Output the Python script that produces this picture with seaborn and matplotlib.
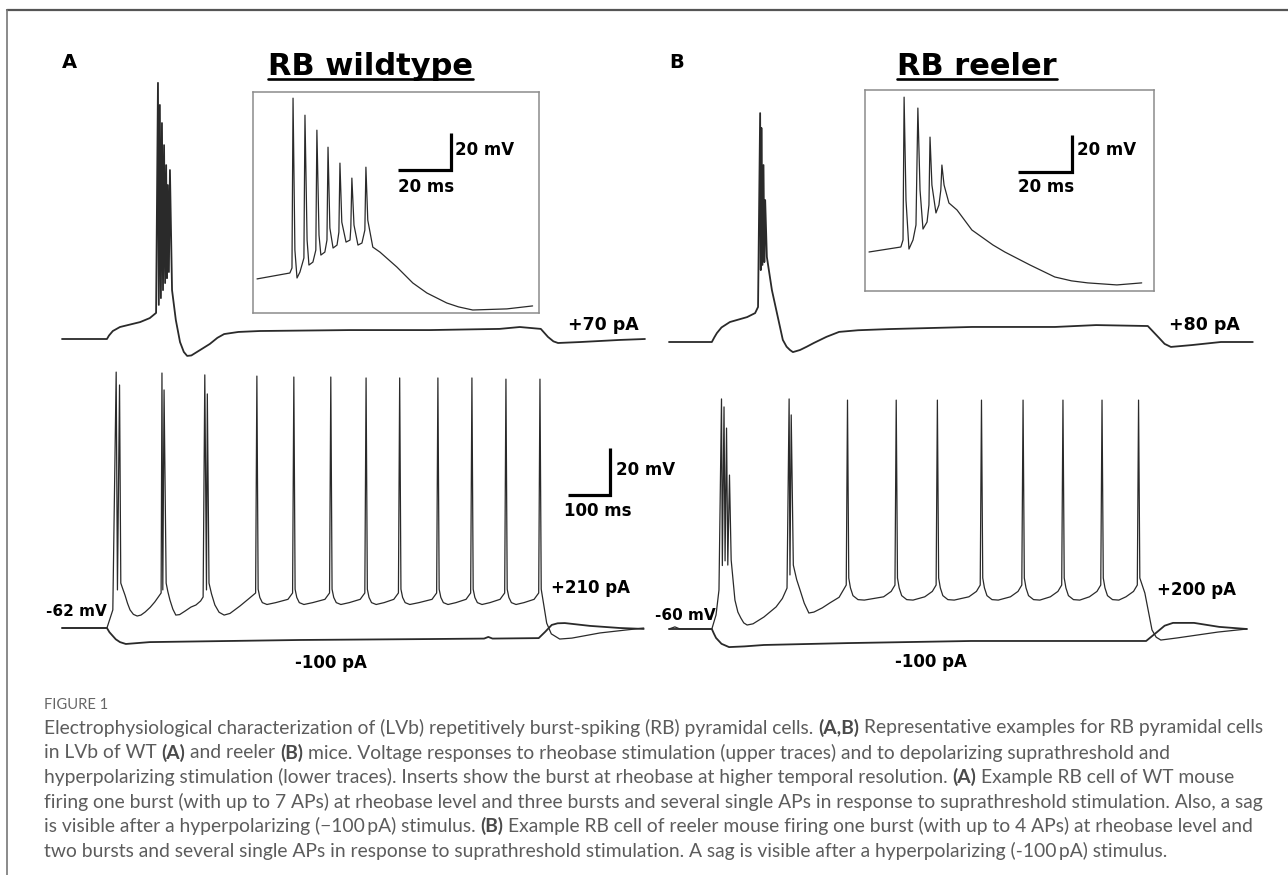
import re
import numpy as np
import pandas as pd
import seaborn as sns
import matplotlib
matplotlib.use("Agg")
import matplotlib.pyplot as plt
from matplotlib.lines import Line2D

# ---- traces: (time ms, membrane potential mV) ----

# A, wildtype: rheobase (+70 pA)
wt_rheo = [(0, -62), (107, -62), (112, -60.5), (121, -58.6), (138, -56.9), (186, -54.8), (209, -53.1), (224, -50.9),
           (228.5, 47.0), (230.5, -47.5), (233, 37.6), (235.5, -44.6), (238, 29.9), (240.5, -41.2),
           (243, 20.5), (245.5, -38.2), (248, 12.0), (250, -36.1), (252, 3.5), (254.5, -33.5), (257, 9.9),
           (262, -41.2), (271, -53.9), (281, -63.3), (290, -67.5), (298, -69.2), (308, -69.0), (317, -68.0),
           (335, -66.0), (352, -64.1), (370, -61.5), (386, -59.9), (420, -59.0), (471, -58.6), (685, -58.2),
           (876, -58.2), (1042, -57.7), (1090, -56.9), (1140, -57.7), (1157, -61.1), (1170, -63.0),
           (1181, -63.7), (1233, -63.3), (1328, -62.4), (1388, -62.0)]

# A, wildtype: suprathreshold (+210 pA)
wt_supra = [(0, -62), (107, -62), (121, -54.3),
            (129, 46.9), (132, -45.8), (137, 41.4), (140, -42.9), (145, -45.5), (150, -48.0), (156, -51.5),
            (162, -54.3), (170, -56.2), (179, -56.9), (188, -56.5), (198, -55.2), (210, -53.2), (221, -50.9),
            (236, -47.1),
            (238, 46.5), (240, -45.8), (243, 39.3), (248, -42.9), (252, -46.5), (257, -50.1), (264, -54.0),
            (271, -56.5), (280, -56.3), (293, -54.8), (307, -53.1), (319, -52.2), (330, -50.5), (336, -48.8),
            (340, 45.7), (344, -45.8), (346, 37.6), (350, -42.9), (356, -47.5), (364, -52.2), (374, -55.3),
            (386, -56.5), (400, -55.8), (424, -52.6), (445, -49.5), (461, -47.1),
            (464, 45.2), (467, -45.5), (471, -49.0), (477, -51.2), (488, -52.0), (509, -51.2), (538, -49.8), (549, -47.1),
            (552, 44.8), (555, -45.5), (559, -49.0), (565, -51.2), (576, -52.0), (597, -51.2), (626, -49.8), (637, -47.1),
            (640, 44.8), (643, -45.5), (647, -49.0), (653, -51.2), (664, -52.0), (684, -51.2), (710, -49.8), (721, -47.1),
            (724, 44.4), (727, -45.5), (731, -49.0), (737, -51.2), (748, -52.0), (767, -51.2), (790, -49.8), (801, -47.1),
            (804, 44.4), (807, -45.5), (811, -49.0), (817, -51.2), (828, -52.0), (850, -51.2), (881, -49.8), (892, -47.1),
            (895, 44.4), (898, -45.5), (902, -49.0), (908, -51.2), (919, -52.0), (938, -51.2), (962, -49.8), (973, -47.1),
            (976, 44.4), (979, -45.5), (983, -49.0), (989, -51.2), (1000, -52.0), (1019, -51.2), (1043, -49.8), (1054, -47.1),
            (1057, 43.9), (1060, -45.5), (1064, -49.0), (1070, -51.2), (1081, -52.0), (1100, -51.2), (1124, -49.8), (1135, -47.1),
            (1138, 43.9), (1141, -45.5), (1146, -51.0), (1154, -59.9), (1165, -64.5), (1185, -66.7), (1214, -66.3),
            (1281, -64.1), (1385, -62.0)]

# A, wildtype: hyperpolarizing (-100 pA)
wt_hyper = [(0, -62), (107, -62), (113, -63.8), (119, -65.0), (128, -66.8), (138, -68.0), (152, -68.8), (209, -68.0),
            (566, -67.1), (876, -66.7), (1005, -66.5), (1015, -65.8), (1025, -66.5), (1135, -66.3), (1150, -63.7),
            (1166, -60.7), (1180, -60.0), (1197, -59.9), (1257, -61.1), (1328, -62.0), (1385, -62.4)]

# A, inset: rheobase burst at higher temporal resolution
wt_inset = [(0, -54.2), (12.4, -51.0), (13.2, -48.3), (13.6, 43.5), (14.3, -38.6), (15.1, -53.7),
            (16.2, -50.5), (17.7, -42.9), (18.1, 34.3), (18.9, -33.2), (19.6, -46.7), (21.1, -45.1),
            (22.2, -38.6), (22.6, 26.2), (23.4, -30.5), (24.1, -41.3), (25.6, -39.7), (26.4, -33.2),
            (26.8, 17.0), (27.5, -26.7), (28.7, -37.5), (30.2, -35.9), (30.9, -28.9), (31.3, 8.4),
            (32.0, -23.5), (33.6, -34.3), (35.1, -33.2), (35.4, -26.7), (35.8, 0.3), (36.6, -25.1),
            (38.1, -35.9), (39.6, -34.8), (40.7, -27.8), (41.1, 6.2), (41.8, -22.4), (43.7, -37.0),
            (46.4, -39.7), (52.8, -47.8), (58.8, -56.4), (64.1, -61.8), (71.6, -67.2), (76.0, -69.3),
            (81.4, -71.0), (94.3, -70.4), (104.0, -68.8)]

# B, reeler: rheobase (+80 pA)
rl_rheo = [(0, -60), (102, -60), (108, -58.0), (114, -56.2), (125, -53.8), (145, -51.5), (186, -49.4), (205, -47.7),
           (212, -45.1),
           (217, 37.4), (218.5, -29.4), (220, 31.1), (222.5, -27.2), (225, 15.3), (227, -26.0), (229, 0.4),
           (233, -23.8), (245, -37.9), (257, -47.7), (271, -59.1), (280, -62.0), (288, -63.4), (295, -64.3),
           (312, -63.4), (328, -62.0), (345, -60.4), (375, -57.8), (405, -55.7), (450, -55.0), (524, -54.5),
           (721, -53.6), (919, -53.6), (1017, -52.8), (1140, -53.2), (1167, -58.3), (1180, -60.8),
           (1195, -62.1), (1245, -61.3), (1314, -60.0), (1390, -60.0)]

# B, reeler: suprathreshold (+200 pA)
rl_supra = [(0, -60), (14, -59.1), (26, -60), (102, -60), (112, -54.0), (119, -43.4),
            (125, 37.9), (127, -33.0), (131, 34.5), (133.5, -31.0), (137, 25.5), (140, -32.8), (144, 5.5),
            (148, -30.6), (157, -47.7), (164, -52.8), (171, -55.3), (178, -57.4), (186, -58.3), (200, -57.8),
            (226, -54.9), (255, -50.6), (270, -47.0), (281, -42.6),
            (286, 37.9), (288, -37.0), (291, 31.1), (296, -32.8), (304, -39.0), (312, -43.4), (322, -49.0),
            (333, -53.2), (345, -52.8), (365, -51.0), (383, -48.9), (405, -46.5), (422, -41.3),
            (425, 37.4), (428, -38.3), (432, -42.5), (438, -45.8), (450, -47.5), (465, -47.7), (511, -46.3), (529, -44.0), (538, -41.3),
            (541, 37.4), (544, -38.3), (548, -42.5), (554, -45.8), (566, -47.5), (581, -47.7), (609, -46.3), (627, -44.0), (636, -41.3),
            (639, 37.4), (642, -38.3), (646, -42.5), (652, -45.8), (664, -47.5), (679, -47.7), (714, -46.3), (732, -44.0), (741, -41.3),
            (744, 37.4), (747, -38.3), (751, -42.5), (757, -45.8), (769, -47.5), (784, -47.7), (813, -46.3), (831, -44.0), (840, -41.3),
            (843, 37.4), (846, -38.3), (850, -42.5), (856, -45.8), (868, -47.5), (883, -47.7), (908, -46.3), (926, -44.0), (935, -41.3),
            (938, 37.4), (941, -38.3), (945, -42.5), (951, -45.8), (963, -47.5), (978, -47.7), (1001, -46.3), (1019, -44.0), (1028, -41.3),
            (1031, 37.4), (1034, -38.3), (1038, -42.5), (1044, -45.8), (1056, -47.5), (1071, -47.7), (1088, -46.3), (1106, -44.0), (1115, -41.3),
            (1118, 37.4), (1121, -38.3), (1133, -44.7), (1150, -60.4), (1160, -63.5), (1171, -64.7), (1210, -63.8),
            (1307, -61.3), (1376, -60.0)]

# B, reeler: hyperpolarizing (-100 pA)
rl_hyper = [(0, -60), (102, -60), (107, -62.0), (112, -63.8), (125, -66.3), (143, -67.7), (180, -67.4), (226, -66.8),
            (424, -66.0), (719, -65.1), (1136, -65.1), (1162, -61.3), (1180, -58.6), (1200, -57.4),
            (1250, -57.4), (1310, -59.1), (1376, -60.0)]

# B, inset
rl_inset = [(0, -51.7), (11.8, -49.0), (12.6, -45.2), (13.0, 32.0), (13.7, -23.6), (14.8, -50.1),
            (16.3, -45.2), (17.4, -37.1), (18.1, 26.1), (18.9, -18.2), (20.0, -39.3), (21.5, -35.5),
            (22.2, -26.3), (22.6, 10.4), (23.3, -15.5), (24.8, -30.6), (25.9, -26.3), (26.6, -18.2),
            (27.0, -4.7), (27.8, -15.5), (29.6, -25.2), (32.6, -29.0), (38.1, -39.8), (45.9, -47.9),
            (50.3, -51.7), (59.6, -58.7), (68.8, -65.2), (75.0, -67.3), (81.0, -68.4), (91.8, -69.5),
            (101.0, -68.4)]

stim_labels_a = ["+70 pA", "+210 pA", "-100 pA"]
stim_labels_b = ["+80 pA", "+200 pA", "-100 pA"]

caption_head = "FIGURE 1"
caption_lines = [
    "Electrophysiological characterization of (LVb) repetitively burst-spiking (RB) pyramidal cells. **(A,B)** Representative examples for RB pyramidal cells",
    "in LVb of WT **(A)** and reeler **(B)** mice. Voltage responses to rheobase stimulation (upper traces) and to depolarizing suprathreshold and",
    "hyperpolarizing stimulation (lower traces). Inserts show the burst at rheobase at higher temporal resolution. **(A)** Example RB cell of WT mouse",
    "firing one burst (with up to 7 APs) at rheobase level and three bursts and several single APs in response to suprathreshold stimulation. Also, a sag",
    "is visible after a hyperpolarizing (\u2212100\u2009pA) stimulus. **(B)** Example RB cell of reeler mouse firing one burst (with up to 4 APs) at rheobase level and",
    "two bursts and several single APs in response to suprathreshold stimulation. A sag is visible after a hyperpolarizing (-100\u2009pA) stimulus.",
]

# ---- layout ----
W, H = 1288, 875
TRACE = "#2a2a2a"
MS_PX, MV_PX = 100 / 42, 20 / 47  # main scale bar: 100 ms / 20 mV

sns.set_theme(style="white")
plt.rcParams["font.family"] = ["DejaVu Sans"]

fig = plt.figure(figsize=(W / 100, H / 100), dpi=100)
renderer = fig.canvas.get_renderer()


def fx(x):
    return x / W


def fy(y):
    return 1 - y / H


def trace_axes(box, x_ref, t_ref, ms_px, y_ref, v_ref, mv_px, frame=False):
    x0, y0, x1, y1 = box
    ax = fig.add_axes([fx(x0), fy(y1), (x1 - x0) / W, (y1 - y0) / H])
    ax.patch.set_alpha(0)
    ax.set_xlim(t_ref + (x0 - x_ref) * ms_px, t_ref + (x1 - x_ref) * ms_px)
    ax.set_ylim(v_ref - (y1 - y_ref) * mv_px, v_ref + (y_ref - y0) * mv_px)
    if frame:
        ax.set_xticks([])
        ax.set_yticks([])
        for s in ax.spines.values():
            s.set_color("#8c8c8c")
            s.set_linewidth(1.1)
    else:
        ax.set_axis_off()
    return ax


def draw_trace(ax, pts, lw):
    df = pd.DataFrame(pts, columns=["t", "mv"])
    xl, yl = ax.get_xlim(), ax.get_ylim()
    sns.lineplot(data=df, x="t", y="mv", sort=False, estimator=None, ax=ax,
                 color=TRACE, linewidth=lw)
    ax.set(xlabel="", ylabel="", xlim=xl, ylim=yl)


def scale_bar(ax, t0, v0, dt, dv):
    ax.plot([t0, t0 + dt, t0 + dt], [v0, v0, v0 + dv], color="black",
            linewidth=2.3, solid_joinstyle="miter", solid_capstyle="butt", clip_on=False)


def label(x, y, s, size, ha="left", va="center"):
    return fig.text(fx(x), fy(y), s, fontsize=size, fontweight="bold",
                    ha=ha, va=va, color="black")


# frame lines
fig.add_artist(Line2D([fx(7), 1], [fy(10), fy(10)], color="#555555", linewidth=1.6))
fig.add_artist(Line2D([fx(7), fx(7)], [fy(10), 0], color="#777777", linewidth=1.2))

panels = [
    dict(letter="A", lx=62, title="RB wildtype", tx=370, x_ref=62, rest=-62, y_up=339, y_low=628,
         box=(40, 70, 660, 365), box_low=(40, 365, 660, 690), rheo=wt_rheo, supra=wt_supra, hyper=wt_hyper,
         ibox=(253, 92, 539, 313), ix=257, iy=273, iv=-51, ims=20 / 53, inset=wt_inset, ibar=(53.2, 4.6),
         ilab=((455, 150), (398, 187)), stim=stim_labels_a,
         stim_xy=((568, 325), (551, 588), (331, 663)), rest_xy=(46, 612)),
    dict(letter="B", lx=669, title="RB reeler", tx=977, x_ref=669, rest=-60, y_up=342, y_low=629,
         box=(645, 70, 1275, 365), box_low=(645, 365, 1275, 690), rheo=rl_rheo, supra=rl_supra, hyper=rl_hyper,
         ibox=(865, 90, 1154, 291), ix=869, iy=247, iv=-49, ims=20 / 54, inset=rl_inset, ibar=(55.1, -8.5),
         ilab=((1077, 150), (1018, 187)), stim=stim_labels_b,
         stim_xy=((1169, 325), (1157, 590), (931, 662)), rest_xy=(655, 615)),
]

for p in panels:
    ax_up = trace_axes(p["box"], p["x_ref"], 0, MS_PX, p["y_up"], p["rest"], MV_PX)
    draw_trace(ax_up, p["rheo"], 1.3)
    ax_low = trace_axes(p["box_low"], p["x_ref"], 0, MS_PX, p["y_low"], p["rest"], MV_PX)
    draw_trace(ax_low, p["hyper"], 1.3)
    draw_trace(ax_low, p["supra"], 0.9)
    if p["letter"] == "A":
        scale_bar(ax_low, 1205, -5.4, 100, 20)
        label(616, 470, "20 mV", 12)
        label(598, 511, "100 ms", 12, ha="center")

    ax_in = trace_axes(p["ibox"], p["ix"], 0, p["ims"], p["iy"], p["iv"], 20 / 37, frame=True)
    draw_trace(ax_in, p["inset"], 0.9)
    scale_bar(ax_in, p["ibar"][0], p["ibar"][1], 20, 20)
    label(*p["ilab"][0], "20 mV", 12)
    label(*p["ilab"][1], "20 ms", 12)

    label(p["lx"], 62, p["letter"], 14)
    t = label(p["tx"], 75, p["title"], 22, ha="center", va="baseline")
    bb = t.get_window_extent(renderer)
    fig.add_artist(Line2D([bb.x0 / W, bb.x1 / W], [fy(79), fy(79)], color="black", linewidth=1.9))

    label(*p["stim_xy"][0], p["stim"][0], 12.5)
    label(*p["stim_xy"][1], p["stim"][1], 12)
    label(*p["stim_xy"][2], p["stim"][2], 12, ha="center")
    label(*p["rest_xy"], "%d mV" % p["rest"], 11)

# ---- caption ----
CAP_FONT = ["Lato", "DejaVu Sans"]
CAP_X = 44


def text_width(s, size, bold=False):
    t = fig.text(0, 0, s, fontsize=size, family=CAP_FONT, fontweight="bold" if bold else "normal")
    w = t.get_window_extent(renderer).width
    t.remove()
    return w


def rich_line(y, line, size):
    space = text_width("a a", size) - text_width("aa", size)
    x = CAP_X
    for seg in re.split(r"(\*\*.*?\*\*)", line):
        if not seg:
            continue
        bold = seg.startswith("**")
        s = seg.strip("*")
        lead = len(s) - len(s.lstrip(" "))
        trail = len(s) - len(s.rstrip(" "))
        x += lead * space
        core = s.strip(" ")
        t = fig.text(fx(x), fy(y), core, fontsize=size, family=CAP_FONT, va="center", ha="left",
                     fontweight="bold" if bold else "normal", color="#4a4a4a" if bold else "#5c5c5c")
        x += t.get_window_extent(renderer).width + trail * space


plain0 = caption_lines[0].replace("**", "")
cap_size = 11 * 1215 / text_width(plain0, 11)
head_size = 9 * 64 / text_width(caption_head, 9)
fig.text(fx(CAP_X), fy(705), caption_head, fontsize=head_size, family=CAP_FONT, color="#666666",
         va="center", ha="left")
for i, line in enumerate(caption_lines):
    rich_line(728 + 24.5 * i, line, cap_size)

fig.savefig("out.png", dpi=100)
